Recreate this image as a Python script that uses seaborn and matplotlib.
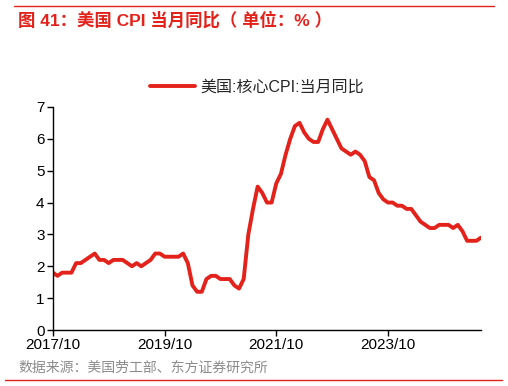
import numpy as np
import pandas as pd
import matplotlib
matplotlib.use("Agg")
import matplotlib.pyplot as plt
import seaborn as sns
from matplotlib.lines import Line2D

# US core CPI YoY (%), monthly 2017/10 - 2025/06
core_cpi = [
    1.8, 1.7, 1.8,
    1.8, 1.8, 2.1, 2.1, 2.2, 2.3, 2.4, 2.2, 2.2, 2.1, 2.2, 2.2,
    2.2, 2.1, 2.0, 2.1, 2.0, 2.1, 2.2, 2.4, 2.4, 2.3, 2.3, 2.3,
    2.3, 2.4, 2.1, 1.4, 1.2, 1.2, 1.6, 1.7, 1.7, 1.6, 1.6, 1.6,
    1.4, 1.3, 1.6, 3.0, 3.8, 4.5, 4.3, 4.0, 4.0, 4.6, 4.9, 5.5,
    6.0, 6.4, 6.5, 6.2, 6.0, 5.9, 5.9, 6.3, 6.6, 6.3, 6.0, 5.7,
    5.6, 5.5, 5.6, 5.5, 5.3, 4.8, 4.7, 4.3, 4.1, 4.0, 4.0, 3.9,
    3.9, 3.8, 3.8, 3.6, 3.4, 3.3, 3.2, 3.2, 3.3, 3.3, 3.3, 3.2,
    3.3, 3.1, 2.8, 2.8, 2.8, 2.9,
]
month_idx = list(range(len(core_cpi)))
tick_pos = [0, 24, 48, 72]
tick_labels = ["2017/10", "2019/10", "2021/10", "2023/10"]
series_name = "美国:核心CPI:当月同比"

df = pd.DataFrame({"month": month_idx, "value": core_cpi})

sns.set_style("ticks")
plt.rcParams["font.family"] = ["Liberation Sans", "Noto Sans CJK SC"]

red = "#E3231B"
fig = plt.figure(figsize=(5.08, 3.86), dpi=100)
ax = fig.add_axes([0.104, 0.145, 0.843, 0.578])

sns.lineplot(data=df, x="month", y="value", ax=ax, color=red, linewidth=2.8)

ax.set_xlim(0, 92)
ax.set_ylim(0, 7)
ax.set_yticks(range(0, 8))
ax.set_xticks(tick_pos)
ax.set_xticklabels(tick_labels)
ax.set_xlabel("")
ax.set_ylabel("")
ax.tick_params(axis="both", labelsize=11, length=4, width=1, colors="black", pad=2)
sns.despine(ax=ax)
for s in ["left", "bottom"]:
    ax.spines[s].set_linewidth(1)
    ax.spines[s].set_color("black")

handle = Line2D([0], [0], color=red, linewidth=2.8)
fig.legend([handle], [series_name], loc="center", bbox_to_anchor=(0.506, 0.775),
           frameon=False, fontsize=11.5, handlelength=2.8, handletextpad=0.3)

# header / footer
fig.add_artist(Line2D([14 / 508, 494 / 508], [1 - 6 / 386, 1 - 6 / 386], color=red, linewidth=1))
fig.text(18 / 508, 1 - 20 / 386, "图 41：美国 CPI 当月同比（ 单位：% ）", color=red,
         fontsize=12.5, fontweight="bold", va="center", ha="left")
fig.text(18 / 508, 1 - 368 / 386, "数据来源：美国劳工部、东方证券研究所", color="#8c8c8c",
         fontsize=10, va="center", ha="left")
fig.add_artist(Line2D([5 / 508, 502 / 508], [1 - 380 / 386, 1 - 380 / 386], color=red, linewidth=1))

fig.savefig("out.png", dpi=100)
